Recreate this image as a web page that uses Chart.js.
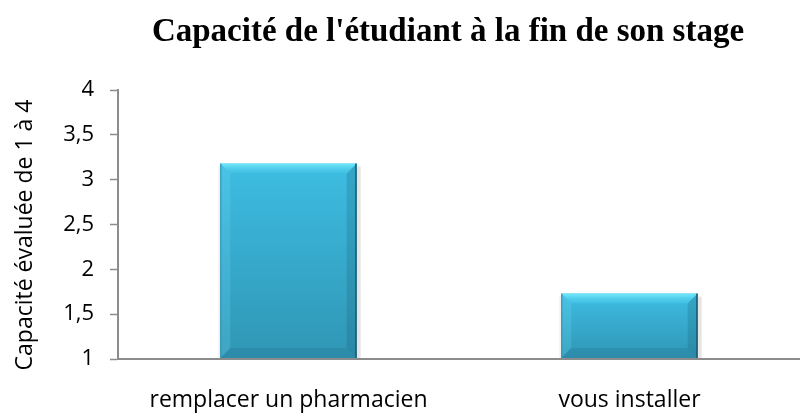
<!DOCTYPE html>
<html><head><meta charset="utf-8">
<script src="https://cdn.jsdelivr.net/npm/chart.js@4.4.1/dist/chart.umd.min.js"></script>
<style>html,body{margin:0;padding:0;background:#fff}#wrap{width:800px;height:417px;position:relative}</style>
</head><body><div id="wrap"><canvas id="c" width="800" height="417"></canvas></div>
<script>
const titleText = "Capacité de l'étudiant à la fin de son stage";
const yAxisTitle = "Capacité évaluée de 1 à 4";
const categories = ["remplacer un pharmacien", "vous installer"];
const values = [3.18, 1.73];
const yMin = 1, yMax = 4, yStep = 0.5;

const bevel = {
  id: 'bevel',
  afterDatasetsDraw(chart) {
    const ctx = chart.ctx;
    const yb = chart.scales.y.getPixelForValue(yMin);
    chart.getDatasetMeta(0).data.forEach(b => {
      const w = b.width, l = b.x - w/2, r = b.x + w/2, t = b.y, bt = Math.min(b.base, yb) - 1;
      const h = bt - t, d = Math.min(10, h/4);
      ctx.save();
      ctx.fillStyle = 'rgba(0,0,0,0.10)'; ctx.fillRect(r, t + 3, 4, h - 3);
      ctx.fillStyle = 'rgba(0,0,0,0.06)'; ctx.fillRect(l - 2, t + 2, 2, h - 2);
      const g = ctx.createLinearGradient(0, t, 0, bt);
      g.addColorStop(0, '#3dbde2'); g.addColorStop(1, '#3096b5');
      ctx.fillStyle = g; ctx.fillRect(l, t, w, h);
      const gt = ctx.createLinearGradient(0, t, 0, t + d);
      gt.addColorStop(0, '#72e8fc'); gt.addColorStop(0.5, '#52cdeb'); gt.addColorStop(1, '#3fbfe3');
      ctx.fillStyle = gt;
      ctx.beginPath(); ctx.moveTo(l, t); ctx.lineTo(r, t); ctx.lineTo(r - d, t + d); ctx.lineTo(l + d, t + d); ctx.closePath(); ctx.fill();
      ctx.fillStyle = 'rgba(120,220,245,0.22)';
      ctx.beginPath(); ctx.moveTo(l, t); ctx.lineTo(l + d, t + d); ctx.lineTo(l + d, bt - d); ctx.lineTo(l, bt); ctx.closePath(); ctx.fill();
      ctx.fillStyle = 'rgba(20,80,100,0.20)';
      ctx.beginPath(); ctx.moveTo(r, t); ctx.lineTo(r - d, t + d); ctx.lineTo(r - d, bt - d); ctx.lineTo(r, bt); ctx.closePath(); ctx.fill();
      ctx.fillStyle = 'rgba(20,80,100,0.14)';
      ctx.beginPath(); ctx.moveTo(l, bt); ctx.lineTo(l + d, bt - d); ctx.lineTo(r - d, bt - d); ctx.lineTo(r, bt); ctx.closePath(); ctx.fill();
      ctx.fillStyle = '#1c5a6e'; ctx.fillRect(r - 1.5, t, 1.5, h);
      ctx.fillStyle = '#2a8fae'; ctx.fillRect(l, t, 1, h);
      ctx.restore();
    });
  },
  afterDraw(chart) {
    const ctx = chart.ctx;
    ctx.save();
    ctx.font = 'bold 33px "Liberation Serif", "Times New Roman", serif';
    ctx.fillStyle = '#000'; ctx.textAlign = 'center'; ctx.textBaseline = 'middle';
    ctx.fillText(titleText, 448, 32);
    ctx.translate(25, 235);
    ctx.rotate(-Math.PI / 2);
    ctx.font = '23px "Open Sans", sans-serif';
    ctx.fillText(yAxisTitle, 0, 0);
    ctx.restore();
  }
};

new Chart(document.getElementById('c'), {
  type: 'bar',
  data: { labels: categories, datasets: [{ data: values, backgroundColor: 'rgba(0,0,0,0)', barPercentage: 0.4, categoryPercentage: 1.0 }] },
  options: {
    responsive: false, animation: false, devicePixelRatio: 1,
    layout: { padding: { top: 90, right: 0, left: 0, bottom: 0 } },
    plugins: { legend: { display: false }, tooltip: { enabled: false }, title: { display: false } },
    scales: {
      x: {
        afterFit(s) { s.height = 58; },
        grid: { display: false, drawTicks: false },
        border: { color: '#8c8c8c', width: 2 },
        ticks: { color: '#000', font: { family: '"Open Sans", sans-serif', size: 23 }, padding: 28 }
      },
      y: {
        min: yMin, max: yMax,
        afterFit(s) { s.width = 118; },
        grid: { drawOnChartArea: false, drawTicks: true, tickLength: 8, color: '#8c8c8c', tickWidth: 1.5 },
        border: { color: '#8c8c8c', width: 2 },
        ticks: { stepSize: yStep, color: '#000', padding: 16, font: { family: '"Open Sans", sans-serif', size: 22 },
          callback: v => String(v).replace('.', ',') },
        title: { display: false }
      }
    }
  },
  plugins: [bevel]
});
</script></body></html>
